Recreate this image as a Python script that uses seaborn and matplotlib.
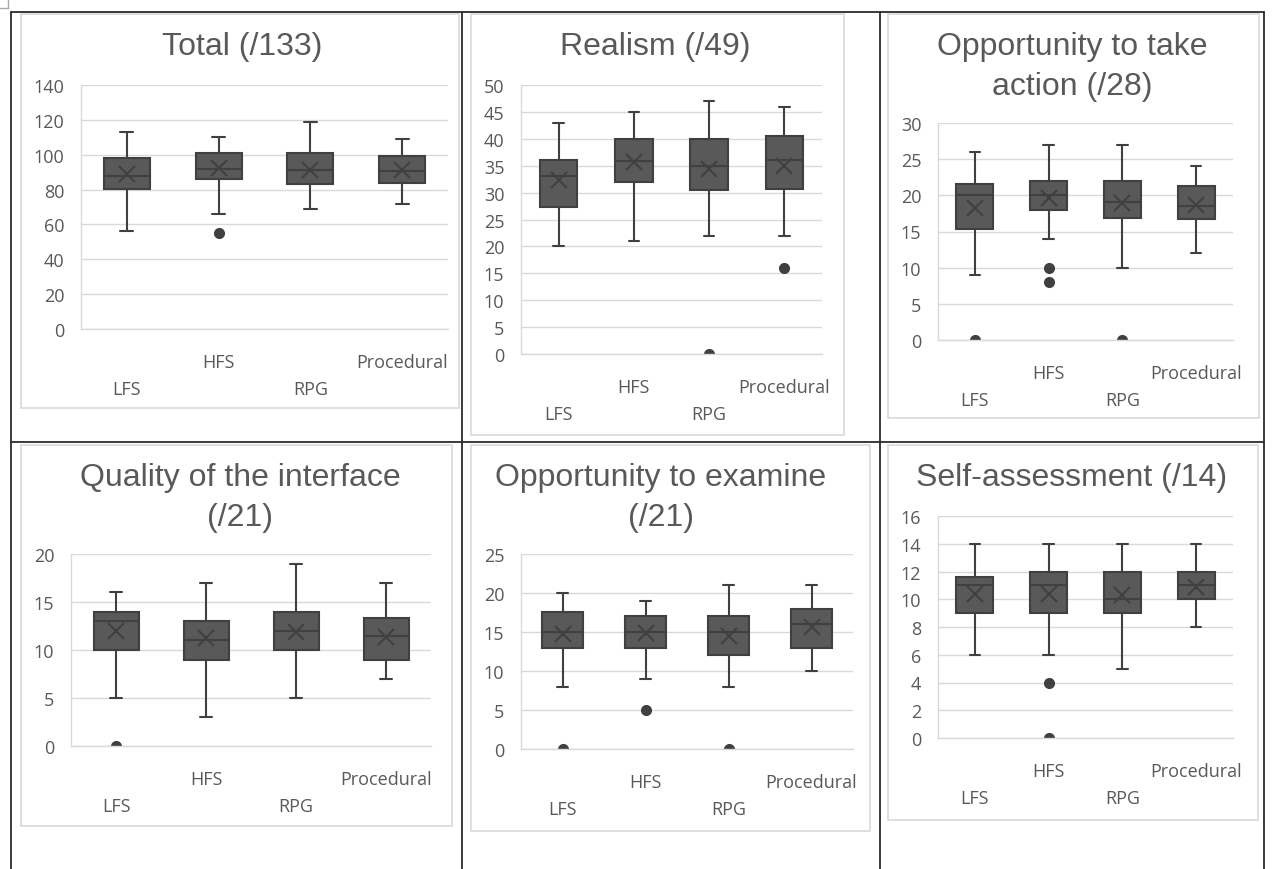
import matplotlib
matplotlib.use("Agg")
import matplotlib.pyplot as plt
import seaborn as sns
from matplotlib.lines import Line2D
from matplotlib.patches import Rectangle

# groupes (axe x)
groups = ["LFS", "HFS", "RPG", "Procedural"]

# valeurs : [min moustache, Q1, médiane, Q3, max moustache, moyenne]
total = [[56, 80.5, 88, 98, 113, 89], [66, 86, 92, 101, 110, 92.5],
         [69, 83, 91, 101, 119, 91.5], [72, 84, 90.5, 99, 109, 91]]
total_out = [[], [55], [], []]

realism = [[20, 27.4, 33, 36, 43, 32.3], [21, 32, 35.8, 40, 45, 35.6],
           [22, 30.4, 35, 40, 47, 34.3], [22, 30.6, 36, 40.5, 46, 35]]
realism_out = [[], [], [0], [16]]

action = [[9, 15.4, 20, 21.5, 26, 18.2], [14, 18, 20, 22, 27, 19.7],
          [10, 16.8, 19.1, 22, 27, 19], [12, 16.7, 18.5, 21.3, 24, 18.6]]
action_out = [[0], [10, 8], [0], []]

interface = [[5, 10, 13, 14, 16, 12], [3, 9, 11, 13, 17, 11.2],
             [5, 10, 12, 14, 19, 11.9], [7, 9, 11.5, 13.3, 17, 11.4]]
interface_out = [[0], [], [], []]

examine = [[8, 13, 15, 17.6, 20, 14.8], [9, 13, 15, 17, 19, 14.9],
           [8, 12, 15, 17, 21, 14.5], [10, 13, 16, 18, 21, 15.7]]
examine_out = [[0], [5], [0], []]

selfassess = [[6, 9, 11, 11.6, 14, 10.4], [6, 9, 11, 12, 14, 10.4],
              [5, 9, 10, 12, 14, 10.3], [8, 10, 11, 12, 14, 10.9]]
selfassess_out = [[], [4, 0], [], []]

titles = ["Total (/133)", "Realism (/49)", "Opportunity to take\naction (/28)",
          "Quality of the interface\n(/21)", "Opportunity to examine\n(/21)",
          "Self-assessment (/14)"]
ymax = [140, 50, 30, 20, 25, 16]
ystep = [20, 5, 5, 5, 5, 2]

sns.set_theme(style="white")
plt.rcParams["font.family"] = ["Open Sans", "DejaVu Sans"]

W, H = 1277, 870
fig = plt.figure(figsize=(W / 100, H / 100), dpi=100)
fig.patch.set_facecolor("white")


def fig_box(x0, y0, x1, y1):
    return [x0 / W, 1 - y1 / H, (x1 - x0) / W, (y1 - y0) / H]


# quadrillage du tableau
line_kw = dict(color="#2b2b2b", lw=1.3, transform=fig.transFigure)
for x in [11, 462, 880, 1264]:
    fig.add_artist(Line2D([x / W, x / W], [1 - 13 / H, 0], **line_kw))
for y in [13, 443]:
    fig.add_artist(Line2D([11 / W, 1264 / W], [1 - y / H, 1 - y / H], **line_kw))
fig.add_artist(Line2D([8 / W, 8 / W], [1, 1 - 9 / H], color="#aaaaaa", lw=1, transform=fig.transFigure))
fig.add_artist(Line2D([0, 8 / W], [1 - 9 / H, 1 - 9 / H], color="#aaaaaa", lw=1, transform=fig.transFigure))

# zones de graphique (cadre gris clair) et zones de tracé
chart_boxes = [(21, 15, 459, 409), (471, 15, 844, 436), (888, 15, 1259, 419),
               (21, 446, 452, 827), (471, 446, 870, 832), (888, 446, 1258, 821)]
plot_boxes = [(81, 86, 448, 330), (521, 86, 822, 355), (938, 124, 1233, 341),
              (71, 555, 431, 747), (521, 555, 853, 750), (938, 517, 1233, 739)]
title_pos = [(242, 47), (655, 47), (1072, 67), (240, 498), (661, 498), (1072, 478)]

panels = [(total, total_out), (realism, realism_out), (action, action_out),
          (interface, interface_out), (examine, examine_out),
          (selfassess, selfassess_out)]

dark = "#404040"
for i, (stats, outs) in enumerate(panels):
    x0, y0, x1, y1 = chart_boxes[i]
    fig.add_artist(Rectangle((x0 / W, 1 - y1 / H), (x1 - x0) / W, (y1 - y0) / H,
                             transform=fig.transFigure, fill=False,
                             edgecolor="#d9d9d9", lw=1.2))
    tx, ty = title_pos[i]
    fig.text(tx / W, 1 - ty / H, titles[i], ha="center", va="center",
             fontsize=23, color="#595959", family=["Liberation Sans", "DejaVu Sans"],
             linespacing=1.45)

    ax = fig.add_axes(fig_box(*plot_boxes[i]))
    bxp = []
    for g, s, o in zip(groups, stats, outs):
        bxp.append(dict(label=g, whislo=s[0], q1=s[1], med=s[2], q3=s[3],
                        whishi=s[4], mean=s[5], fliers=o))
    ax.bxp(bxp, positions=range(len(groups)), widths=0.5, capwidths=0.14,
           patch_artist=True, showmeans=True,
           boxprops=dict(facecolor="#595959", edgecolor=dark, lw=1.5),
           medianprops=dict(color=dark, lw=1.5),
           whiskerprops=dict(color=dark, lw=1.5),
           capprops=dict(color=dark, lw=1.5),
           meanprops=dict(marker="x", markeredgecolor=dark, markersize=12,
                          markeredgewidth=1.5),
           flierprops=dict(marker="o", markerfacecolor=dark, markeredgecolor=dark,
                           markersize=7))
    ax.set_xlim(-0.5, len(groups) - 0.5)
    ax.set_ylim(0, ymax[i])
    ax.set_yticks(range(0, ymax[i] + 1, ystep[i]))
    ax.yaxis.grid(True, color="#d9d9d9", lw=1)
    ax.set_axisbelow(True)
    sns.despine(ax=ax, top=True, right=True)
    for side in ["left", "bottom"]:
        ax.spines[side].set_color("#d9d9d9")
        ax.spines[side].set_linewidth(1)
    ax.tick_params(axis="both", length=0, labelsize=13, labelcolor="#595959")
    ax.tick_params(axis="y", pad=12)
    for k, tick in enumerate(ax.xaxis.get_major_ticks()):
        tick.set_pad(17 if k % 2 else 37)
    ax.set_facecolor("white")

fig.savefig("out.png", dpi=100, facecolor="white")
